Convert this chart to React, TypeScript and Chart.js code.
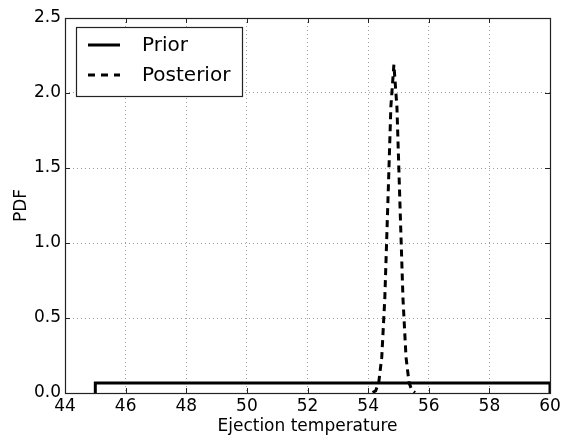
import React, { useEffect, useRef } from "react";
import { Chart, registerables } from "chart.js";

Chart.register(...registerables);

const xTicks = [44, 46, 48, 50, 52, 54, 56, 58, 60];
const yTicks = [0.0, 0.5, 1.0, 1.5, 2.0, 2.5];

const priorX = [45, 45, 60, 60];
const priorY = [0, 0.0667, 0.0667, 0];

const posteriorX = [54.15, 54.25, 54.35, 54.45, 54.55, 54.65, 54.75, 54.85, 54.95, 55.05, 55.15, 55.25, 55.35, 55.45, 55.55];
const posteriorY = [0.0025, 0.015, 0.069, 0.239, 0.629, 1.259, 1.907, 2.19, 1.907, 1.259, 0.629, 0.239, 0.069, 0.015, 0.0025];

const seriesNames = ["Prior", "Posterior"];
const xTitle = "Ejection temperature";
const yTitle = "PDF";

const FONT = "'DejaVu Sans', sans-serif";

const framePlugin = {
  id: "frame",
  afterDatasetsDraw(chart: any) {
    const { ctx, chartArea: a } = chart;
    const xs = chart.scales.x;
    const ys = chart.scales.y;
    ctx.save();
    ctx.strokeStyle = "#222";
    ctx.lineWidth = 1.2;
    ctx.setLineDash([]);
    ctx.strokeRect(Math.round(a.left) + 0.5, Math.round(a.top) + 0.5, Math.round(a.right - a.left), Math.round(a.bottom - a.top));
    const len = 5;
    ctx.lineWidth = 1;
    ctx.beginPath();
    xTicks.forEach((t) => {
      const px = Math.round(xs.getPixelForValue(t)) + 0.5;
      ctx.moveTo(px, a.bottom);
      ctx.lineTo(px, a.bottom - len);
      ctx.moveTo(px, a.top);
      ctx.lineTo(px, a.top + len);
    });
    yTicks.forEach((t) => {
      const py = Math.round(ys.getPixelForValue(t)) + 0.5;
      ctx.moveTo(a.left, py);
      ctx.lineTo(a.left + len, py);
      ctx.moveTo(a.right, py);
      ctx.lineTo(a.right - len, py);
    });
    ctx.stroke();

    // legend
    const lx = a.left + 11;
    const ly = a.top + 9;
    const lw = 166;
    const lh = 69;
    ctx.fillStyle = "#fff";
    ctx.fillRect(lx, ly, lw, lh);
    ctx.strokeStyle = "#222";
    ctx.lineWidth = 1.2;
    ctx.strokeRect(lx + 0.5, ly + 0.5, lw, lh);
    ctx.font = `20px ${FONT}`;
    ctx.fillStyle = "#000";
    ctx.textBaseline = "middle";
    const rows = [ly + 18, ly + 48];
    seriesNames.forEach((name, i) => {
      ctx.beginPath();
      ctx.strokeStyle = "#000";
      ctx.lineWidth = 3;
      ctx.setLineDash(i === 0 ? [] : [7, 6]);
      ctx.moveTo(lx + 12, rows[i]);
      ctx.lineTo(lx + 44, rows[i]);
      ctx.stroke();
      ctx.setLineDash([]);
      ctx.fillText(name, lx + 66, rows[i] + 1);
    });
    ctx.restore();
  },
};

export default function App() {
  const ref = useRef<HTMLCanvasElement>(null);
  useEffect(() => {
    document.body.style.margin = "0";
    const canvas = ref.current!;
    const chart = new Chart(canvas, {
      type: "line",
      data: {
        datasets: [
          {
            label: seriesNames[0],
            data: priorX.map((x, i) => ({ x, y: priorY[i] })),
            borderColor: "#000",
            borderWidth: 3,
            pointRadius: 0,
            tension: 0,
            fill: false,
          },
          {
            label: seriesNames[1],
            data: posteriorX.map((x, i) => ({ x, y: posteriorY[i] })),
            borderColor: "#000",
            borderWidth: 3,
            borderDash: [7, 5],
            pointRadius: 0,
            tension: 0,
            fill: false,
          },
        ],
      },
      options: {
        animation: false,
        responsive: false,
        maintainAspectRatio: false,
        layout: { padding: { left: 0, right: 11, top: 18, bottom: 0 } },
        plugins: { legend: { display: false }, tooltip: { enabled: false } },
        scales: {
          x: {
            type: "linear",
            min: 44,
            max: 60,
            afterBuildTicks: (s: any) => {
              s.ticks = xTicks.map((v) => ({ value: v }));
            },
            afterFit: (s: any) => {
              s.height = 45;
              s.paddingLeft = 0;
              s.paddingRight = 0;
            },
            ticks: {
              color: "#000",
              font: { family: FONT, size: 17 },
              padding: 3,
              maxRotation: 0,
              callback: (v: any) => String(v),
            },
            grid: { color: "#a0a0a0", drawTicks: false, lineWidth: 1 },
            border: { display: false, dash: [1, 3] },
            title: {
              display: true,
              text: xTitle,
              color: "#000",
              font: { family: FONT, size: 17 },
              padding: { top: 0, bottom: 1 },
            },
          },
          y: {
            type: "linear",
            min: 0,
            max: 2.5,
            afterBuildTicks: (s: any) => {
              s.ticks = yTicks.map((v) => ({ value: v }));
            },
            afterFit: (s: any) => {
              s.width = 65;
              s.paddingTop = 0;
              s.paddingBottom = 0;
            },
            ticks: {
              color: "#000",
              font: { family: FONT, size: 17 },
              padding: 4,
              callback: (v: any) => Number(v).toFixed(1),
            },
            grid: { color: "#a0a0a0", drawTicks: false, lineWidth: 1 },
            border: { display: false, dash: [1, 3] },
            title: {
              display: true,
              text: yTitle,
              color: "#000",
              font: { family: FONT, size: 17 },
              padding: { top: 11, bottom: 0 },
            },
          },
        },
      },
      plugins: [framePlugin],
    });
    return () => chart.destroy();
  }, []);
  return (
    <div style={{ width: 561, height: 438, background: "#fff" }}>
      <canvas ref={ref} width={561} height={438} style={{ display: "block" }} />
    </div>
  );
}
